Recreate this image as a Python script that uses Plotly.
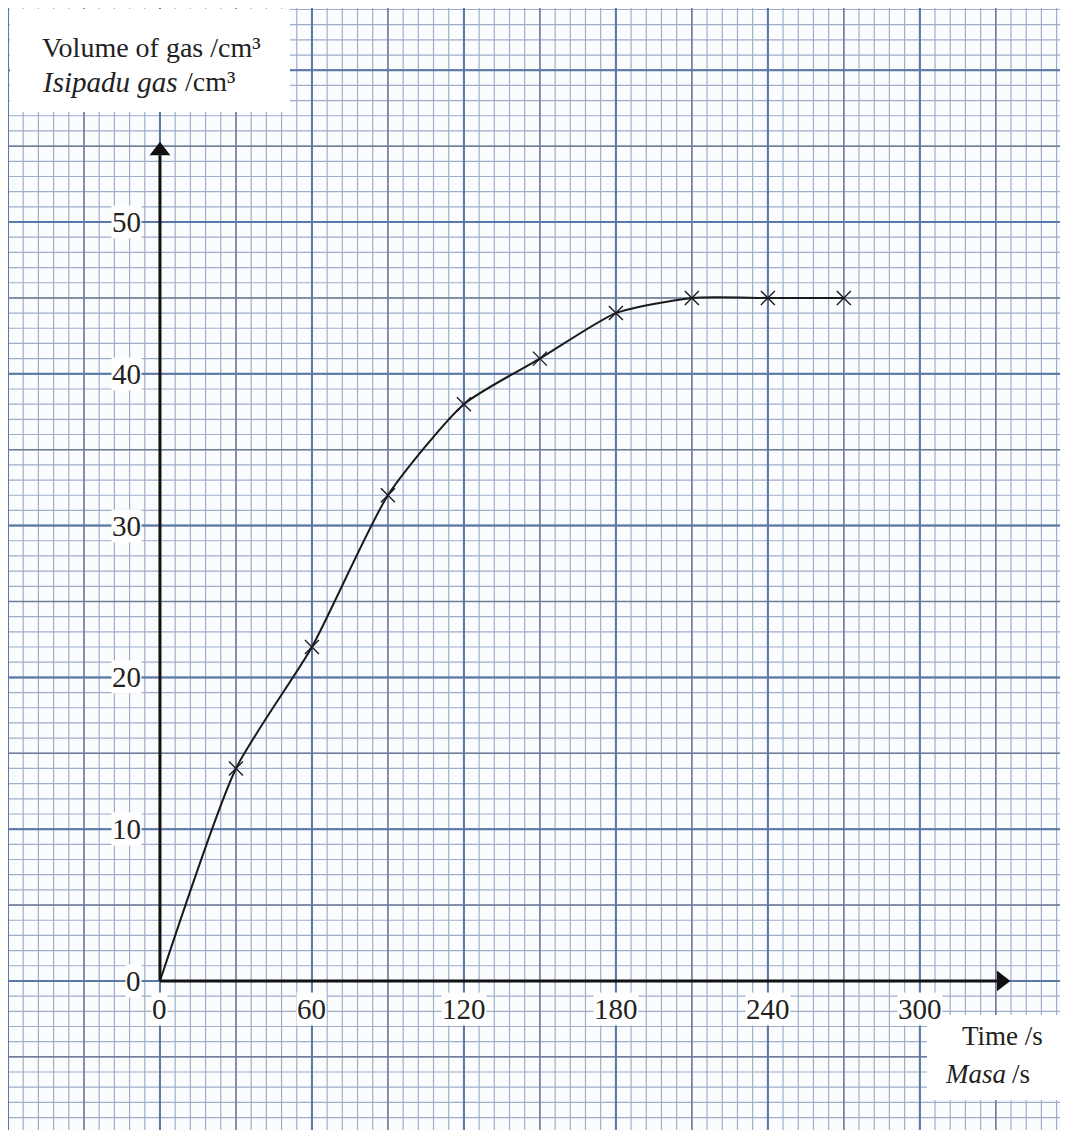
import plotly.graph_objects as go

# ---- data ----
time_s = [0, 30, 60, 90, 120, 150, 180, 210, 240, 270]
volume_cm3 = [0, 14, 22, 32, 38, 41, 44, 45, 45, 45]
x_tick_vals = [0, 60, 120, 180, 240, 300]
x_tick_text = ["0", "60", "120", "180", "240", "300"]
y_tick_vals = [0, 10, 20, 30, 40, 50]
y_tick_text = ["0", "10", "20", "30", "40", "50"]

# page body has an 8 px margin, so the figure is sized to fit the window
W, H = 1060, 1122
OFF = 8
XR = [-60.0, 358.5]
YR = [-9.82, 64.1]
FONT = "Liberation Serif"
X_TIP = 336.4   # arrow tip of time axis
Y_TIP = 55.4    # arrow tip of volume axis

fig = go.Figure()

shapes = []
def add_grid(step_x, step_y, color, width):
    k = int(XR[0] // step_x)
    while k * step_x <= XR[1]:
        x = k * step_x
        shapes.append(dict(type="line", xref="x", yref="paper", x0=x, x1=x, y0=0, y1=1,
                           line=dict(color=color, width=width), layer="below"))
        k += 1
    k = int(YR[0] // step_y)
    while k * step_y <= YR[1]:
        y = k * step_y
        shapes.append(dict(type="line", xref="paper", yref="y", x0=0, x1=1, y0=y, y1=y,
                           line=dict(color=color, width=width), layer="below"))
        k += 1

add_grid(6, 1, "#9fadca", 1.2)
add_grid(30, 5, "#6f7b98", 1.5)
add_grid(60, 10, "#5b78a8", 2.0)

def pbox(x0, y0, x1, y1):
    x0, x1, y0, y1 = x0 - OFF, x1 - OFF, y0 - OFF, y1 - OFF
    shapes.append(dict(type="rect", xref="paper", yref="paper",
                       x0=x0 / W, x1=x1 / W, y0=1 - y1 / H, y1=1 - y0 / H,
                       fillcolor="white", line=dict(width=0), layer="below"))

pbox(10, 9, 290, 112)
pbox(927, 1015, 1070, 1100)

# axis lines
shapes.append(dict(type="line", xref="x", yref="y", x0=0, x1=X_TIP - 6, y0=0, y1=0,
                   line=dict(color="#111", width=3)))
shapes.append(dict(type="line", xref="x", yref="y", x0=0, x1=0, y0=0, y1=Y_TIP - 1,
                   line=dict(color="#111", width=3)))

fig.add_trace(go.Scatter(
    x=time_s, y=volume_cm3, mode="lines",
    line=dict(color="#1a1a1a", width=2, shape="spline", smoothing=0.6),
    hoverinfo="skip", showlegend=False))
fig.add_trace(go.Scatter(
    x=time_s[1:], y=volume_cm3[1:], mode="markers",
    marker=dict(symbol="x-thin", size=14, line=dict(color="#1a1a1a", width=1.4)),
    showlegend=False))
# arrow heads
fig.add_trace(go.Scatter(
    x=[X_TIP - 4.2, 0], y=[0, Y_TIP - 0.7], mode="markers",
    marker=dict(symbol=["triangle-right", "triangle-up"], size=18, color="#111",
                line=dict(width=0)),
    hoverinfo="skip", showlegend=False))

ann = []
TICKFONT = dict(family=FONT, size=29, color="#222")
for v, t in zip(x_tick_vals, x_tick_text):
    ann.append(dict(x=v, y=0, xref="x", yref="y", yshift=-28, text=t, showarrow=False,
                    font=TICKFONT, bgcolor="white", borderpad=0))
for v, t in zip(y_tick_vals, y_tick_text):
    ann.append(dict(x=0, y=v, xref="x", yref="y", xanchor="right", xshift=-18, text=t,
                    showarrow=False, font=TICKFONT, bgcolor="white", borderpad=0))

def ptext(x, y, text, anchor="left", italic=False, size=28):
    ann.append(dict(x=(x - OFF) / W, y=1 - (y - OFF) / H, xref="paper", yref="paper",
                    xanchor=anchor, yanchor="middle", showarrow=False, text=text,
                    font=dict(family=FONT, size=size, color="#222",
                              style="italic" if italic else "normal")))

ptext(40, 48, "Volume of gas /cm³")
ptext(40, 82, "Isipadu gas", italic=True, size=29)
ptext(183, 82, "/cm³")
ptext(1002, 1036, "Time /s", anchor="center", size=27)
ptext(1008, 1074, "Masa", anchor="right", italic=True, size=27)
ptext(1010, 1074, "/s", anchor="left", size=27)

fig.update_layout(
    width=W, height=H, margin=dict(l=0, r=0, t=0, b=0),
    paper_bgcolor="#fbfcfe", plot_bgcolor="#fbfcfe",
    xaxis=dict(range=XR, showgrid=False, zeroline=False, showticklabels=False,
               ticks="", showline=False, fixedrange=True),
    yaxis=dict(range=YR, showgrid=False, zeroline=False, showticklabels=False,
               ticks="", showline=False, fixedrange=True),
    shapes=shapes, annotations=ann, showlegend=False,
)

fig.write_html("out.html")
